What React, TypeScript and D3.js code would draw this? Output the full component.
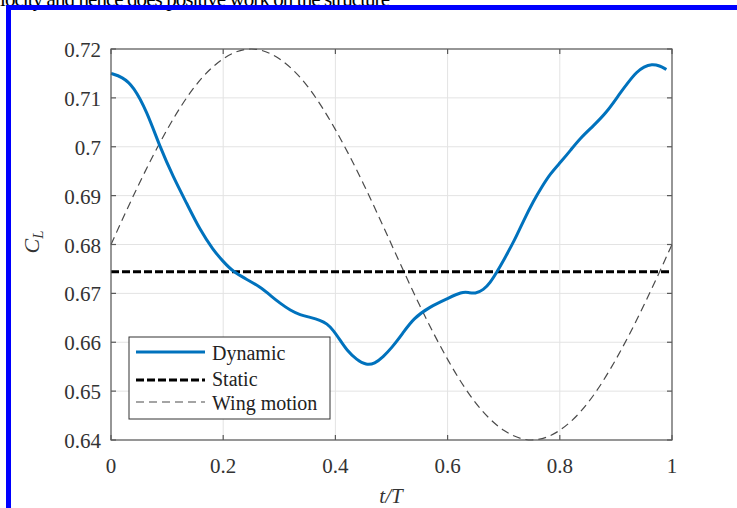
import React, { useEffect, useRef } from "react";
import * as d3 from "d3";

// values
const dynT = [0, 0.02, 0.04, 0.064, 0.087, 0.111, 0.135, 0.159, 0.182, 0.2, 0.218, 0.24, 0.266, 0.285, 0.301, 0.32, 0.337, 0.355, 0.373, 0.385, 0.396, 0.408, 0.42, 0.438, 0.455, 0.47, 0.485, 0.5, 0.52, 0.539, 0.569, 0.601, 0.625, 0.637, 0.649, 0.664, 0.676, 0.688, 0.7, 0.72, 0.735, 0.753, 0.768, 0.783, 0.802, 0.82, 0.836, 0.86, 0.884, 0.907, 0.922, 0.937, 0.95, 0.964, 0.978, 0.99];
const dynCL = [0.715, 0.7143, 0.7124, 0.7072, 0.7, 0.6938, 0.6884, 0.6829, 0.6789, 0.6765, 0.6744, 0.673, 0.6713, 0.6695, 0.668, 0.6665, 0.6656, 0.6651, 0.6645, 0.6638, 0.6625, 0.6605, 0.6584, 0.6564, 0.6553, 0.6556, 0.657, 0.6588, 0.6618, 0.6649, 0.6673, 0.669, 0.6703, 0.6702, 0.6699, 0.6707, 0.6722, 0.6744, 0.6768, 0.681, 0.6848, 0.6889, 0.6918, 0.6945, 0.6969, 0.6994, 0.7017, 0.7043, 0.7071, 0.7109, 0.7132, 0.7153, 0.7164, 0.7169, 0.7166, 0.7158];
const staticCL = 0.6744;
const wingT = [0, 0.05, 0.1, 0.15, 0.2, 0.25, 0.3, 0.35, 0.4, 0.45, 0.5, 0.55, 0.6, 0.65, 0.7, 0.75, 0.8, 0.85, 0.9, 0.95, 1];
const wingCL = [0.68, 0.6924, 0.7035, 0.7124, 0.718, 0.72, 0.718, 0.7124, 0.7035, 0.6924, 0.68, 0.6676, 0.6565, 0.6476, 0.642, 0.64, 0.642, 0.6476, 0.6565, 0.6676, 0.68];
const xTicks = [0, 0.2, 0.4, 0.6, 0.8, 1];
const yTicks = [0.64, 0.65, 0.66, 0.67, 0.68, 0.69, 0.7, 0.71, 0.72];
const legendLabels = ["Dynamic", "Static", "Wing motion"];

const App = () => {
  const svgRef = useRef<SVGSVGElement>(null);

  useEffect(() => {
    const width = 737;
    const height = 508;
    const m = { left: 111, right: 672, top: 49, bottom: 440 };
    const font = "'Liberation Serif', 'Times New Roman', serif";

    const svg = d3.select(svgRef.current);
    svg.selectAll("*").remove();
    svg.attr("width", width).attr("height", height);

    svg.append("rect").attr("width", width).attr("height", height).attr("fill", "#fff");

    // clipped caption from the page above
    svg.append("text")
      .attr("x", 0).attr("y", 6)
      .attr("font-family", font).attr("font-size", 21)
      .attr("textLength", 390)
      .attr("fill", "#000")
      .text("locity and hence does positive work on the structure");

    // blue frame
    svg.append("rect").attr("x", 6).attr("y", 5).attr("width", width - 6).attr("height", 5).attr("fill", "#0000ff");
    svg.append("rect").attr("x", 6).attr("y", 5).attr("width", 5).attr("height", height - 5).attr("fill", "#0000ff");

    const x = d3.scaleLinear().domain([0, 1]).range([m.left, m.right]);
    const y = d3.scaleLinear().domain([0.64, 0.72]).range([m.bottom, m.top]);

    // grid
    const grid = svg.append("g").attr("stroke", "#e3e3e3").attr("stroke-width", 1);
    xTicks.forEach((t) => grid.append("line").attr("x1", x(t)).attr("x2", x(t)).attr("y1", m.top).attr("y2", m.bottom));
    yTicks.forEach((v) => grid.append("line").attr("x1", m.left).attr("x2", m.right).attr("y1", y(v)).attr("y2", y(v)));

    const plot = svg.append("g");

    // wing motion
    const wingData = wingT.map((t, i) => [t, wingCL[i]] as [number, number]);
    plot.append("path")
      .attr("d", d3.line().x((d) => x(d[0])).y((d) => y(d[1])).curve(d3.curveNatural)(wingData))
      .attr("fill", "none").attr("stroke", "#4a4a4a").attr("stroke-width", 1.2)
      .attr("stroke-dasharray", "8,5");

    // static
    plot.append("line")
      .attr("x1", x(0)).attr("x2", x(1)).attr("y1", y(staticCL)).attr("y2", y(staticCL))
      .attr("stroke", "#000").attr("stroke-width", 3).attr("stroke-dasharray", "8,3");

    // dynamic
    const dynData = dynT.map((t, i) => [t, dynCL[i]] as [number, number]);
    plot.append("path")
      .attr("d", d3.line().x((d) => x(d[0])).y((d) => y(d[1])).curve(d3.curveBasis)(dynData))
      .attr("fill", "none").attr("stroke", "#0072bd").attr("stroke-width", 3)
      .attr("stroke-linejoin", "round");

    // axes box and inward ticks
    const axis = svg.append("g").attr("stroke", "#5a5a5a").attr("stroke-width", 1.2);
    axis.append("rect").attr("x", m.left).attr("y", m.top).attr("width", m.right - m.left).attr("height", m.bottom - m.top).attr("fill", "none");
    xTicks.forEach((t) => {
      axis.append("line").attr("x1", x(t)).attr("x2", x(t)).attr("y1", m.bottom).attr("y2", m.bottom - 5);
      axis.append("line").attr("x1", x(t)).attr("x2", x(t)).attr("y1", m.top).attr("y2", m.top + 5);
    });
    yTicks.forEach((v) => {
      axis.append("line").attr("x1", m.left).attr("x2", m.left + 5).attr("y1", y(v)).attr("y2", y(v));
      axis.append("line").attr("x1", m.right).attr("x2", m.right - 5).attr("y1", y(v)).attr("y2", y(v));
    });

    const labels = svg.append("g").attr("font-family", font).attr("font-size", 21).attr("fill", "#333");
    xTicks.forEach((t) => {
      labels.append("text").attr("x", x(t)).attr("y", 473).attr("text-anchor", "middle").text(String(t));
    });
    yTicks.forEach((v) => {
      labels.append("text").attr("x", 101).attr("y", y(v) + 8).attr("text-anchor", "end").text(String(+v.toFixed(2)));
    });

    // axis titles
    const xl = svg.append("text").attr("x", 391).attr("y", 503).attr("text-anchor", "middle")
      .attr("font-family", font).attr("font-size", 21).attr("font-style", "italic").attr("fill", "#333");
    xl.text("t/T");

    const yl = svg.append("text").attr("transform", "translate(39,242) rotate(-90)").attr("text-anchor", "middle")
      .attr("font-family", font).attr("font-size", 22).attr("font-style", "italic").attr("fill", "#333");
    yl.append("tspan").text("C");
    yl.append("tspan").attr("font-size", 15).attr("dy", 4).text("L");

    // legend
    const lg = svg.append("g");
    lg.append("rect").attr("x", 129).attr("y", 337).attr("width", 201).attr("height", 82)
      .attr("fill", "#fff").attr("stroke", "#333").attr("stroke-width", 1);
    const rowsY = [352, 380, 402];
    const textY = [360, 386, 410];
    const styles = [
      { stroke: "#0072bd", w: 3, dash: null },
      { stroke: "#000", w: 3, dash: "8,3" },
      { stroke: "#4a4a4a", w: 1.2, dash: "8,5" },
    ];
    legendLabels.forEach((label, i) => {
      const ln = lg.append("line").attr("x1", 136).attr("x2", 205).attr("y1", rowsY[i]).attr("y2", rowsY[i])
        .attr("stroke", styles[i].stroke).attr("stroke-width", styles[i].w);
      if (styles[i].dash) ln.attr("stroke-dasharray", styles[i].dash);
      lg.append("text").attr("x", 212).attr("y", textY[i])
        .attr("font-family", font).attr("font-size", 20).attr("fill", "#222").text(label);
    });
  }, []);

  return (
    <div style={{ position: "absolute", left: 0, top: 0 }}>
      <svg ref={svgRef} style={{ display: "block" }}></svg>
    </div>
  );
};

export default App;
